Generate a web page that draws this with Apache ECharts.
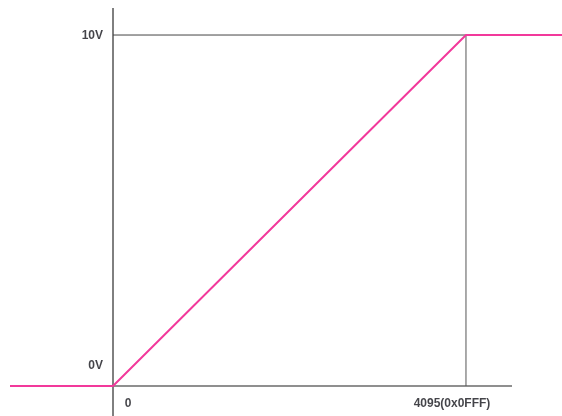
<!DOCTYPE html>
<html>
<head>
<meta charset="utf-8">
<script src="https://cdn.jsdelivr.net/npm/echarts@6/dist/echarts.min.js"></script>
<style>
  html, body { margin: 0; padding: 0; background: #fff; }
  #chart { width: 562px; height: 416px; }
</style>
</head>
<body>
<div id="chart"></div>
<script>
// DAC transfer: digital code (0..4095) to output voltage (0..10 V), clamped outside
const codeRange = [-1195, 5209];
const voltRange = [-0.855, 10.77];
const transferCodes = [-1195, 0, 4095, 5209];
const transferVolts = [0, 0, 10, 10];

// Axis and guide segments, in data units
const yAxisSegment = [[0, -0.855], [0, 10.77]];
const xAxisSegment = [[0, 0], [4629, 0]];
const topGuide = [[0, 10], [4095, 10]];
const rightGuide = [[4095, 0], [4095, 10]];

// Tick labels
const xTickValues = [0, 4095];
const xTickLabels = ['0', '4095(0x0FFF)'];
const yTickValues = [10, 0];
const yTickLabels = ['10V', '0V'];

const pink = '#f2399b';
const labelFont = { fontFamily: 'Liberation Sans, Arial, sans-serif', fontWeight: 'bold', fontSize: 12, color: '#15151c' };

function segment(points, color, width) {
  return {
    type: 'line', data: points, symbol: 'none', silent: true,
    lineStyle: { color: color, width: width }, z: 2
  };
}

const chart = echarts.init(document.getElementById('chart'), null, { renderer: 'canvas' });
chart.setOption({
  animation: false,
  grid: { left: 10, right: 0, top: 8, bottom: 0 },
  xAxis: {
    type: 'value', min: codeRange[0], max: codeRange[1],
    axisLine: { show: false }, axisTick: { show: false },
    axisLabel: { show: false }, splitLine: { show: false }
  },
  yAxis: {
    type: 'value', min: voltRange[0], max: voltRange[1],
    axisLine: { show: false }, axisTick: { show: false },
    axisLabel: { show: false }, splitLine: { show: false }
  },
  series: [
    segment(yAxisSegment, '#000', 1),
    segment(xAxisSegment, '#6a6a6a', 1.5),
    segment(topGuide, '#444', 1),
    segment(rightGuide, '#555', 1),
    {
      type: 'line', symbol: 'none', silent: true, z: 5,
      data: transferCodes.map((c, i) => [c, transferVolts[i]]),
      lineStyle: { color: pink, width: 2 }
    },
    {
      type: 'scatter', symbolSize: 0, silent: true, z: 6,
      data: [
        { value: [xTickValues[0], 0], name: xTickLabels[0],
          label: { position: 'bottom', offset: [15, 7] } },
        { value: [xTickValues[1], 0], name: xTickLabels[1],
          label: { position: 'bottom', offset: [-14, 7] } },
        { value: [0, yTickValues[0]], name: yTickLabels[0],
          label: { position: 'left', offset: [-5, 1] } },
        { value: [0, yTickValues[1]], name: yTickLabels[1],
          label: { position: 'left', offset: [-5, -20] } }
      ],
      label: Object.assign({ show: true, formatter: p => p.name }, labelFont)
    }
  ]
});
</script>
</body>
</html>
